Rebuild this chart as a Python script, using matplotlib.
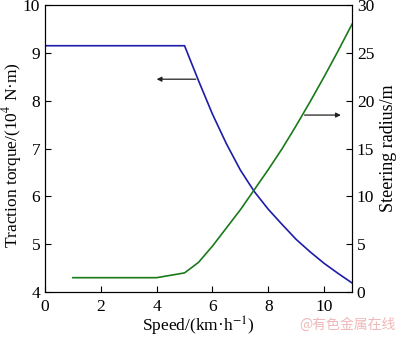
import numpy as np
import matplotlib
matplotlib.use('Agg')
import matplotlib.pyplot as plt

plt.rcParams['font.family'] = ['Liberation Serif', 'DejaVu Serif']
plt.rcParams['mathtext.fontset'] = 'stix'

# traction torque (10^4 N*m) vs speed
speed_t = [0, 5.0, 5.5, 6.0, 6.5, 7.0, 7.5, 8.0, 8.5, 9.0, 9.5, 10.0, 10.5, 11.0]
torque = [9.15, 9.15, 8.42, 7.72, 7.1, 6.55, 6.1, 5.73, 5.41, 5.1, 4.84, 4.6, 4.39, 4.19]

# steering radius (m) vs speed
speed_r = [1, 4, 5, 5.5, 6.0, 6.5, 7.0, 7.5, 8.0, 8.5, 9.0, 9.5, 10.0, 10.5, 11.0]
radius = [1.5, 1.5, 2.0, 3.1, 4.8, 6.7, 8.6, 10.7, 12.8, 15.0, 17.4, 19.9, 22.5, 25.2, 28.0]

fig = plt.figure(figsize=(4, 3.38), dpi=100)
ax = fig.add_axes([0.1125, 0.136, 0.7675, 0.849])
ax2 = ax.twinx()

ax.plot(speed_t, torque, color='#1c1ca8', lw=1.2)
ax2.plot(speed_r, radius, color='#1a7a1a', lw=1.2)

ax.set_xlim(0, 11)
ax.set_ylim(4, 10)
ax2.set_ylim(0, 30)
ax.set_xticks([0, 2, 4, 6, 8, 10])
ax.set_yticks([4, 5, 6, 7, 8, 9, 10])
ax2.set_yticks([0, 5, 10, 15, 20, 25, 30])

ax.tick_params(direction='in', labelsize=12.5, length=4, top=False)
ax.tick_params(axis='x', pad=5)
ax2.tick_params(direction='in', labelsize=12.5, length=4)

ax.set_xlabel('Speed/(km·h$^{-1}$)', fontsize=12.5, labelpad=0)
ax.set_ylabel('Traction torque/(10$^4$ N·m)', fontsize=12.5)
ax.yaxis.set_label_coords(-0.068, 0.476)
ax2.set_ylabel('Steering radius/m', fontsize=13, labelpad=4)

# arrows pointing to each curve's axis
ax.annotate('', xy=(3.9, 8.45), xytext=(5.5, 8.45),
            arrowprops=dict(arrowstyle='-|>', color='#222222', lw=0.9, mutation_scale=7))
ax2.annotate('', xy=(10.7, 18.5), xytext=(9.2, 18.5),
             arrowprops=dict(arrowstyle='-|>', color='#222222', lw=0.9, mutation_scale=7))

fig.text(0.99, 0.04, '@有色金属在线', ha='right', va='center', fontsize=10,
         color='#f0b8b8', family=['Noto Sans CJK SC', 'DejaVu Sans'])

fig.savefig('out.png', dpi=100)
